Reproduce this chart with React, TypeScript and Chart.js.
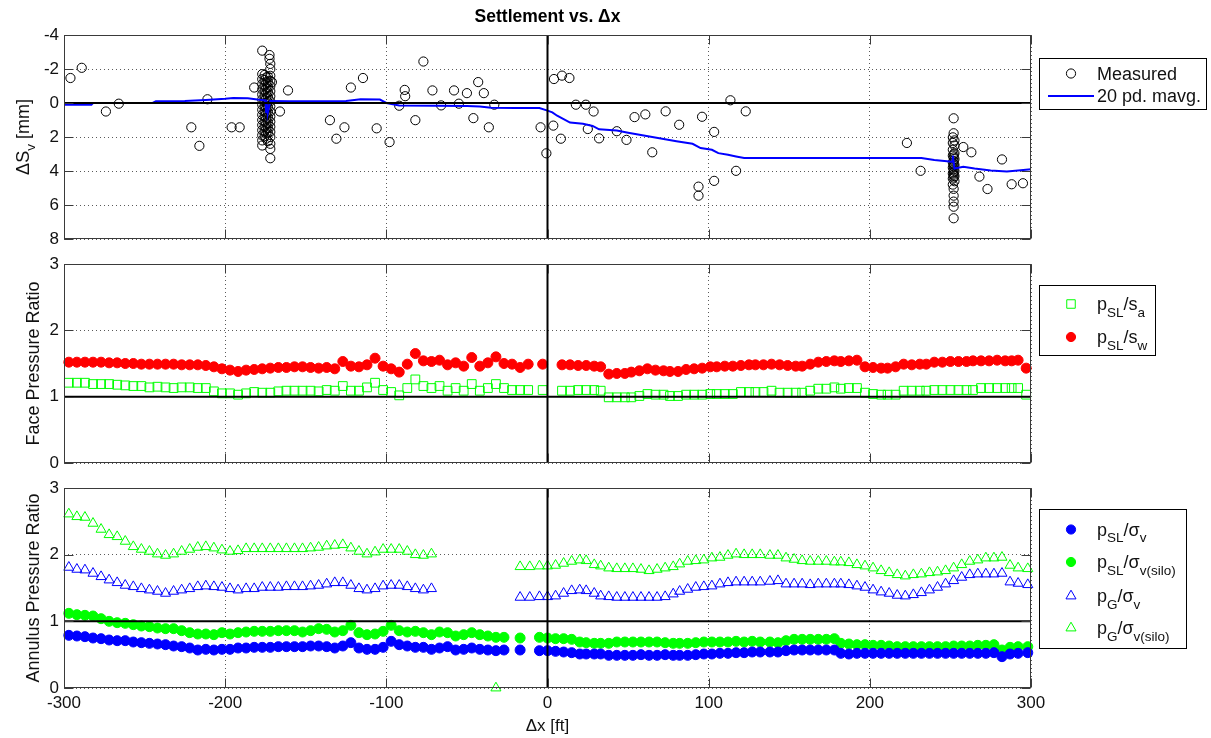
import React, { useEffect, useRef } from 'react';
import { Chart, registerables } from 'chart.js';

Chart.register(...registerables);

const FONT = '"Liberation Sans", Arial, Helvetica, sans-serif';

// ---------- axes ----------
const X_MIN = -300;
const X_MAX = 300;
const X_STEP = 100;
const SETTLE_MIN = -4;
const SETTLE_MAX = 8;
const SETTLE_STEP = 2;
const RATIO_MIN = 0;
const RATIO_MAX = 3;
const RATIO_STEP = 1;

// ---------- panel 1 : settlement ----------
const MEAS_X = [-296, -289, -274, -266, -221, -216, -211, -196, -191, -182, -166, -161, -135, -131, -126, -122, -114.5, -106, -98, -92, -88.6, -88.3, -82, -77, -71.4, -66, -58, -55, -50, -46, -43, -39.5, -36.4, -33, -4.3, -0.7, 3.6, 4, 8.3, 9, 13.6, 17.6, 23.8, 25, 28.6, 32, 43, 49, 54, 60.7, 65, 73.3, 81.7, 93.7, 93.7, 95.9, 103.4, 103.4, 113.5, 117, 123, 223, 231.5, 258, 263, 268, 273, 282, 288, 295];
const MEAS_Y = [-1.47, -2.07, 0.5, 0.04, 1.43, 2.52, -0.22, 1.43, 1.43, -0.91, 0.5, -0.74, 1.01, 2.1, 1.43, -0.91, -1.47, 1.49, 2.3, 0.16, -0.77, -0.4, 1.01, -2.44, -0.74, 0.14, -0.74, 0.04, -0.58, 0.89, -1.23, -0.58, 1.43, 0.1, 1.43, 2.96, 1.33, -1.41, 2.1, -1.61, -1.47, 0.1, 0.1, 1.53, 0.5, 2.08, 1.66, 2.17, 0.83, 0.67, 2.9, 0.49, 1.28, 4.92, 5.45, 0.81, 1.7, 4.58, -0.16, 3.99, 0.49, 2.35, 3.99, 2.59, 2.9, 4.33, 5.06, 3.32, 4.78, 4.72];

const CLUSTER_A_X = [-177, -172.5, -172.5, -172, -172, -177, -172, -177, -172, -177, -172, -177, -172, -177, -172, -177, -172, -177, -172, -177, -172, -177, -172, -177, -172, -177, -172, -177, -172, -177, -172, -177, -172, -177, -172, -172, -171,
  -174.5, -174.5, -174.5, -174.5, -174.5, -174.5, -174.5, -174.5, -174.5, -174.5, -174.5, -174.5, -174.5,
  -175.5, -175.5, -175.5, -175.5, -175.5, -175.5, -175.5, -175.5, -175.5, -175.5, -175.5, -175.5, -175.5,
  -173.5, -173.5, -173.5, -173.5, -173.5, -173.5, -173.5, -173.5, -173.5, -173.5, -173.5, -173.5, -173.5];
const CLUSTER_A_Y = [-3.08, -2.82, -2.6, -2.3, -2.0, -1.7, -1.6, -1.4, -1.3, -1.1, -1.0, -0.8, -0.7, -0.5, -0.4, -0.2, -0.1, 0.1, 0.2, 0.4, 0.5, 0.7, 0.8, 1.0, 1.1, 1.3, 1.4, 1.6, 1.7, 1.9, 2.0, 2.2, 2.4, 2.5, 2.7, 3.25, -1.23,
  -1.5, -1.2, -0.9, -0.6, -0.3, 0.0, 0.3, 0.6, 0.9, 1.2, 1.5, 1.8, 2.1,
  -1.65, -1.35, -1.05, -0.75, -0.45, -0.15, 0.15, 0.45, 0.75, 1.05, 1.35, 1.65, 1.95,
  -1.55, -1.25, -0.95, -0.65, -0.35, -0.05, 0.25, 0.55, 0.85, 1.15, 1.45, 1.75, 2.25];

const CLUSTER_B_X = [252, 252, 251.5, 252.5, 251.5, 252.5, 251.5, 252.5, 251.5, 252.5, 251.5, 252.5, 251.5, 252.5, 251.5, 252.5, 251.5, 252.5, 251.5, 252, 252, 252, 252, 252,
  252, 252, 252, 252, 252, 252, 252, 252, 252];
const CLUSTER_B_Y = [0.9, 1.78, 2.02, 2.2, 2.35, 2.5, 2.75, 2.95, 3.1, 3.3, 3.5, 3.65, 3.8, 4.0, 4.15, 4.3, 4.45, 4.6, 4.8, 5.05, 5.45, 5.8, 6.1, 6.78,
  3.02, 3.2, 3.4, 3.58, 3.72, 3.9, 4.08, 4.22, 4.38];

const MAVG_X = [-300, -283, -282, -245, -243, -225, -212, -200, -195, -186, -180, -175, -174.5, -174, -173.5, -172, -160, -140, -125, -116, -104, -100, -92, -70, -50, -42, -35, -20, -5, 0, 3, 6, 10, 14, 22, 28, 32, 43, 50, 65, 80, 90, 95, 102, 106, 112, 117, 122, 232, 240, 251, 251.5, 252.5, 258, 265, 275, 285, 292, 300];
const MAVG_Y = [0.1, 0.1, 0.0, 0.0, -0.1, -0.12, -0.18, -0.25, -0.3, -0.28, -0.2, -0.15, 0.6, 0.2, 0.55, -0.12, -0.1, -0.1, -0.12, -0.22, -0.2, 0.0, 0.14, 0.16, 0.18, 0.2, 0.28, 0.3, 0.3, 0.45, 0.55, 0.75, 0.95, 1.15, 1.22, 1.35, 1.55, 1.62, 1.75, 2.0, 2.25, 2.4, 2.65, 2.75, 2.95, 3.05, 3.15, 3.24, 3.24, 3.35, 3.45, 3.1, 3.85, 3.75, 3.85, 3.97, 4.03, 3.97, 3.9];

// ---------- panel 2 : face pressure ratio ----------
const FACE_X = [
  -297, -292, -287, -282, -277, -272, -267, -262, -257, -252, -247, -242, -237, -232, -227, -222, -217, -212, -207, -202,
  -197, -192, -187, -182, -177, -172, -167, -162, -157, -152, -147, -142, -137, -132, -127, -122, -117, -112, -107, -102,
  -97, -92, -87, -82, -77, -72, -67, -62, -57, -52, -47, -42, -37, -32, -27, -22, -17, -12,
  -3, 9, 14, 19, 24, 29,
  33, 38, 43, 48, 52, 57, 62, 67, 72, 76, 81, 86, 91, 96, 101, 105, 110, 115, 120, 125,
  129, 134, 139, 144, 149, 154, 158, 163, 168, 173, 178, 182, 187, 192, 197, 202, 207, 211, 216, 221,
  226, 231, 235, 240, 245, 250, 255, 260, 264, 269, 274, 279, 284, 288, 292, 297];
const FACE_SW = [
  1.52, 1.52, 1.52, 1.52, 1.52, 1.51, 1.51, 1.50, 1.50, 1.49, 1.49, 1.49, 1.49, 1.49, 1.48, 1.48, 1.48, 1.47, 1.45, 1.42,
  1.40, 1.38, 1.40, 1.41, 1.42, 1.43, 1.44, 1.44, 1.45, 1.45, 1.44, 1.43, 1.44, 1.42, 1.53, 1.46, 1.45, 1.48, 1.58, 1.46,
  1.42, 1.37, 1.49, 1.65, 1.54, 1.53, 1.55, 1.48, 1.51, 1.46, 1.59, 1.46, 1.51, 1.60, 1.50, 1.49, 1.44, 1.49,
  1.49, 1.48, 1.48, 1.47, 1.47, 1.46,
  1.45, 1.34, 1.35, 1.35, 1.37, 1.39, 1.42, 1.40, 1.39, 1.38, 1.38, 1.41, 1.42, 1.43, 1.45, 1.45, 1.46, 1.46, 1.47, 1.48,
  1.48, 1.48, 1.49, 1.48, 1.47, 1.46, 1.46, 1.49, 1.52, 1.53, 1.54, 1.53, 1.54, 1.55, 1.45, 1.44, 1.43, 1.43, 1.45, 1.49,
  1.48, 1.49, 1.49, 1.52, 1.52, 1.53, 1.53, 1.53, 1.54, 1.54, 1.54, 1.55, 1.54, 1.54, 1.55, 1.43];
const FACE_SA = [
  1.21, 1.21, 1.21, 1.19, 1.19, 1.19, 1.18, 1.17, 1.16, 1.16, 1.14, 1.15, 1.14, 1.13, 1.14, 1.14, 1.13, 1.13, 1.08, 1.05,
  1.05, 1.03, 1.05, 1.07, 1.06, 1.06, 1.08, 1.09, 1.09, 1.09, 1.09, 1.08, 1.10, 1.09, 1.16, 1.09, 1.09, 1.14, 1.21, 1.10,
  1.07, 1.02, 1.13, 1.26, 1.16, 1.13, 1.16, 1.09, 1.13, 1.09, 1.19, 1.09, 1.13, 1.19, 1.13, 1.10, 1.10, 1.10,
  1.10, 1.09, 1.09, 1.10, 1.10, 1.10,
  1.09, 0.99, 0.99, 0.99, 0.99, 1.01, 1.04, 1.03, 1.03, 1.01, 1.01, 1.03, 1.03, 1.03, 1.04, 1.04, 1.04, 1.04, 1.07, 1.07,
  1.07, 1.07, 1.09, 1.06, 1.06, 1.06, 1.06, 1.09, 1.12, 1.12, 1.14, 1.12, 1.13, 1.13, 1.06, 1.04, 1.03, 1.03, 1.03, 1.09,
  1.09, 1.09, 1.09, 1.10, 1.10, 1.10, 1.10, 1.10, 1.10, 1.13, 1.13, 1.13, 1.13, 1.13, 1.13, 1.03];

// ---------- panel 3 : annulus pressure ratio ----------
const ANN_X = [
  -297, -292, -287, -282, -277, -272, -267, -262, -257, -252, -247, -242, -237, -232, -227, -222, -217, -212, -207, -202,
  -197, -192, -187, -182, -177, -172, -167, -162, -157, -152, -147, -142, -137, -132, -127, -122, -117, -112, -107, -102,
  -97, -92, -87, -82, -77, -72, -67, -62, -57, -52, -47, -42, -37, -32, -27,
  -17, -11, -5,
  0, 5, 10, 15, 20, 24, 29,
  33, 38, 43, 48, 53, 58, 63, 68, 73, 78, 82, 87, 92, 97, 102, 107, 112, 117, 122, 127,
  132, 138, 143, 148, 153, 158, 163, 168, 173, 178, 182, 187, 192, 197, 202, 207, 212, 217, 222, 227,
  232, 237, 242, 247, 252, 257, 262, 267, 272, 277, 282, 287, 292, 298];
const ANN_SL_V = [
  0.79, 0.78, 0.77, 0.75, 0.74, 0.72, 0.71, 0.71, 0.69, 0.68, 0.67, 0.66, 0.65, 0.63, 0.62, 0.60, 0.57, 0.58, 0.57, 0.58,
  0.58, 0.60, 0.60, 0.61, 0.61, 0.61, 0.62, 0.62, 0.62, 0.62, 0.63, 0.63, 0.62, 0.60, 0.63, 0.68, 0.60, 0.58, 0.58, 0.61,
  0.70, 0.65, 0.63, 0.61, 0.61, 0.58, 0.60, 0.62, 0.57, 0.58, 0.60, 0.58, 0.57, 0.56, 0.57,
  0.57, null, 0.56,
  0.56, 0.55, 0.54, 0.53, 0.51, 0.51, 0.51,
  0.51, 0.49, 0.49, 0.49, 0.49, 0.50, 0.49, 0.49, 0.50, 0.49, 0.49, 0.49, 0.50, 0.51, 0.51, 0.52, 0.52, 0.53, 0.53, 0.54,
  0.54, 0.54, 0.54, 0.56, 0.57, 0.57, 0.57, 0.57, 0.57, 0.57, 0.52, 0.51, 0.52, 0.52, 0.52, 0.52, 0.52, 0.52, 0.52, 0.52,
  0.52, 0.52, 0.52, 0.52, 0.52, 0.52, 0.52, 0.52, 0.52, 0.53, 0.47, 0.51, 0.52, 0.53];
const ANN_SL_VSILO = [
  1.12, 1.10, 1.09, 1.08, 1.04, 1.00, 0.98, 0.97, 0.95, 0.93, 0.92, 0.90, 0.89, 0.89, 0.86, 0.83, 0.81, 0.81, 0.80, 0.83,
  0.81, 0.83, 0.84, 0.85, 0.85, 0.85, 0.86, 0.86, 0.86, 0.84, 0.86, 0.89, 0.88, 0.84, 0.86, 0.94, 0.83, 0.80, 0.81, 0.85,
  0.94, 0.86, 0.84, 0.85, 0.83, 0.80, 0.84, 0.83, 0.78, 0.80, 0.83, 0.80, 0.78, 0.76, 0.76,
  0.75, null, 0.76,
  0.75, 0.74, 0.74, 0.73, 0.69, 0.68, 0.67,
  0.67, 0.67, 0.69, 0.69, 0.69, 0.69, 0.69, 0.69, 0.68, 0.67, 0.67, 0.67, 0.68, 0.69, 0.69, 0.69, 0.69, 0.70, 0.69, 0.70,
  0.69, 0.69, 0.68, 0.71, 0.73, 0.73, 0.73, 0.73, 0.73, 0.74, 0.67, 0.66, 0.65, 0.65, 0.64, 0.64, 0.63, 0.62, 0.62, 0.62,
  0.62, 0.62, 0.62, 0.62, 0.63, 0.63, 0.63, 0.64, 0.64, 0.65, 0.57, 0.61, 0.62, 0.62];
const ANN_G_V = [
  1.81, 1.78, 1.77, 1.72, 1.67, 1.62, 1.58, 1.54, 1.52, 1.49, 1.47, 1.45, 1.42, 1.45, 1.47, 1.49, 1.52, 1.53, 1.52, 1.51,
  1.49, 1.47, 1.49, 1.49, 1.51, 1.51, 1.51, 1.52, 1.52, 1.52, 1.53, 1.54, 1.56, 1.58, 1.58, 1.54, 1.49, 1.47, 1.49, 1.53,
  1.54, 1.54, 1.52, 1.49, 1.47, 1.49, null, null, null, null, null, null, null, null, null,
  1.36, 1.36, 1.37,
  1.37, 1.38, 1.42, 1.46, 1.47, 1.46, 1.42,
  1.38, 1.37, 1.36, 1.36, 1.36, 1.36, 1.36, 1.36, 1.37, 1.41, 1.45, 1.48, 1.51, 1.52, 1.53, 1.56, 1.58, 1.59, 1.59, 1.59,
  1.59, 1.60, 1.61, 1.56, 1.56, 1.56, 1.55, 1.56, 1.56, 1.56, 1.56, 1.55, 1.53, 1.51, 1.47, 1.44, 1.42, 1.39, 1.38, 1.40,
  1.43, 1.47, 1.51, 1.56, 1.61, 1.66, 1.70, 1.71, 1.71, 1.71, 1.72, 1.59, 1.57, 1.55];
const ANN_G_VSILO = [
  2.61, 2.57, 2.56, 2.47, 2.38, 2.30, 2.27, 2.20, 2.12, 2.08, 2.05, 2.01, 1.99, 2.01, 2.05, 2.08, 2.11, 2.12, 2.10, 2.07,
  2.05, 2.06, 2.09, 2.09, 2.09, 2.09, 2.09, 2.09, 2.09, 2.09, 2.10, 2.11, 2.13, 2.14, 2.15, 2.10, 2.05, 2.01, 2.04, 2.08,
  2.08, 2.08, 2.05, 2.00, 1.99, 2.01, null, null, null, null, null, null, null, 0.0, null,
  1.82, 1.82, 1.83,
  1.83, 1.84, 1.87, 1.90, 1.92, 1.91, 1.85,
  1.83, 1.80, 1.79, 1.79, 1.79, 1.78, 1.76, 1.78, 1.80, 1.82, 1.86, 1.90, 1.91, 1.92, 1.95, 1.96, 1.99, 2.01, 2.00, 2.00,
  2.00, 1.99, 1.99, 1.95, 1.93, 1.91, 1.90, 1.90, 1.90, 1.89, 1.89, 1.88, 1.85, 1.83, 1.80, 1.76, 1.73, 1.70, 1.68, 1.70,
  1.71, 1.73, 1.74, 1.76, 1.80, 1.85, 1.90, 1.92, 1.95, 1.95, 1.96, 1.84, 1.80, 1.79];

// ---------- colours ----------
const BLUE = '#0000ff';
const GREEN = '#00ff00';
const RED = '#ff0000';
const BLACK = '#000000';

// ---------- layout (page px) ----------
const FIG_W = 1211;
const FIG_H = 738;
const PLOT_LEFT = 64;
const PLOT_RIGHT = 1031;

type Part = { t: string; sub?: boolean };
type LegendItem = { kind: 'circle' | 'line' | 'rect' | 'triangle'; color: string; fill: boolean; parts: Part[] };
type Panel = { top: number; height: number; areaTop: number; areaBottom: number };

// canvases overlap a little (they are transparent) so Chart.js never has to push the plot area
const P1: Panel = { top: 0, height: 259, areaTop: 35, areaBottom: 239 };
const P2: Panel = { top: 244, height: 239, areaTop: 264, areaBottom: 463 };
const P3: Panel = { top: 468, height: 270, areaTop: 488, areaBottom: 688 };

const TICK_SIZE = 17;
const LEG_SIZE = 18;
const TITLE_SIZE = 18;

function pts(xs: number[], ys: (number | null)[]) {
  const out: { x: number; y: number }[] = [];
  xs.forEach((x, i) => {
    const y = ys[i];
    if (y !== null && y !== undefined) out.push({ x, y });
  });
  return out;
}

function partsWidth(ctx: CanvasRenderingContext2D, parts: Part[], size: number) {
  let w = 0;
  for (const p of parts) {
    const fs = p.sub ? size * 0.75 : size;
    ctx.font = `${fs}px ${FONT}`;
    w += ctx.measureText(p.t).width;
  }
  return w;
}

function drawParts(ctx: CanvasRenderingContext2D, parts: Part[], x: number, y: number, size: number) {
  let cx = x;
  ctx.textAlign = 'left';
  ctx.textBaseline = 'alphabetic';
  for (const p of parts) {
    const fs = p.sub ? size * 0.75 : size;
    ctx.font = `${fs}px ${FONT}`;
    ctx.fillText(p.t, cx, y + (p.sub ? size * 0.36 : 0));
    cx += ctx.measureText(p.t).width;
  }
}

function drawMarker(ctx: CanvasRenderingContext2D, it: LegendItem, x: number, y: number, lineX0: number, lineX1: number) {
  ctx.save();
  ctx.strokeStyle = it.color;
  ctx.fillStyle = it.color;
  ctx.lineWidth = 1;
  ctx.beginPath();
  if (it.kind === 'line') {
    ctx.lineWidth = 2;
    ctx.moveTo(lineX0, y);
    ctx.lineTo(lineX1, y);
    ctx.stroke();
  } else if (it.kind === 'circle') {
    ctx.arc(x, y, 4.6, 0, Math.PI * 2);
    if (it.fill) ctx.fill();
    ctx.stroke();
  } else if (it.kind === 'rect') {
    ctx.rect(x - 4.25, y - 4.25, 8.5, 8.5);
    ctx.stroke();
  } else {
    const r = 5.8;
    ctx.moveTo(x, y - r);
    ctx.lineTo(x + r * 0.866, y + r / 2);
    ctx.lineTo(x - r * 0.866, y + r / 2);
    ctx.closePath();
    ctx.stroke();
  }
  ctx.restore();
}

type Decor = {
  panel: Panel;
  yTitle: Part[];
  yTitleX: number;
  legend: { x: number; y: number; w: number; h: number; markerX: number; textX: number; lineX0: number; lineX1: number; itemY: number[]; items: LegendItem[] };
  title?: string;
};

function makeDecor(cfg: Decor) {
  return {
    id: 'decor',
    afterDraw(chart: any) {
      const ctx: CanvasRenderingContext2D = chart.ctx;
      const { left, right, top, bottom } = chart.chartArea;
      const off = cfg.panel.top;
      ctx.save();
      ctx.setLineDash([]);
      // frame
      ctx.strokeStyle = '#3a3a3a';
      ctx.lineWidth = 1;
      const L = Math.round(left) + 0.5;
      const R = Math.round(right) - 0.5;
      const T = Math.round(top) + 0.5;
      const B = Math.round(bottom) - 0.5;
      ctx.strokeRect(L, T, R - L, B - T);
      // inward ticks
      const tk = 9;
      ctx.beginPath();
      chart.scales.x.ticks.forEach((t: any) => {
        const px = Math.round(chart.scales.x.getPixelForValue(t.value)) + 0.5;
        ctx.moveTo(px, B); ctx.lineTo(px, B - tk);
        ctx.moveTo(px, T); ctx.lineTo(px, T + tk);
      });
      chart.scales.y.ticks.forEach((t: any) => {
        const py = Math.round(chart.scales.y.getPixelForValue(t.value)) + 0.5;
        ctx.moveTo(L, py); ctx.lineTo(L + tk, py);
        ctx.moveTo(R, py); ctx.lineTo(R - tk, py);
      });
      ctx.stroke();

      // y title (rotated)
      ctx.fillStyle = '#111';
      ctx.save();
      ctx.translate(cfg.yTitleX, (top + bottom) / 2);
      ctx.rotate(-Math.PI / 2);
      const w = partsWidth(ctx, cfg.yTitle, TITLE_SIZE);
      drawParts(ctx, cfg.yTitle, -w / 2, 0, TITLE_SIZE);
      ctx.restore();

      // title
      if (cfg.title) {
        ctx.font = `bold 17.5px ${FONT}`;
        ctx.textAlign = 'center';
        ctx.textBaseline = 'alphabetic';
        ctx.fillStyle = '#000';
        ctx.fillText(cfg.title, (left + right) / 2, 22 - off);
      }

      // legend
      const lg = cfg.legend;
      ctx.fillStyle = '#fff';
      ctx.fillRect(lg.x, lg.y - off, lg.w, lg.h);
      ctx.strokeStyle = '#000';
      ctx.lineWidth = 1;
      ctx.strokeRect(lg.x + 0.5, lg.y - off + 0.5, lg.w, lg.h);
      lg.items.forEach((it, i) => {
        const cy = lg.itemY[i] - off;
        drawMarker(ctx, it, lg.markerX, cy, lg.lineX0, lg.lineX1);
        ctx.fillStyle = '#111';
        drawParts(ctx, it.parts, lg.textX, cy + 6.3, LEG_SIZE);
      });
      ctx.restore();
    },
  };
}

function refLine(data: { x: number; y: number }[]) {
  return {
    data,
    showLine: true,
    borderColor: BLACK,
    borderWidth: 2,
    pointRadius: 0,
    fill: false,
  };
}

function buildOptions(p: Panel, yMin: number, yMax: number, yStep: number, reverse: boolean, showX: boolean) {
  const gridCommon = { color: '#5a5a5a', lineWidth: 1, drawTicks: false, borderDash: [1, 3] };
  const xAxisH = FIG_H - p.areaBottom;
  return {
    responsive: false,
    maintainAspectRatio: false,
    animation: false,
    devicePixelRatio: 1,
    events: [],
    layout: {
      padding: {
        left: 0,
        right: FIG_W - PLOT_RIGHT,
        top: p.areaTop - p.top,
        bottom: showX ? 0 : p.top + p.height - p.areaBottom,
      },
    },
    plugins: { legend: { display: false }, tooltip: { enabled: false }, title: { display: false } },
    scales: {
      x: {
        type: 'linear',
        min: X_MIN,
        max: X_MAX,
        ticks: {
          stepSize: X_STEP,
          display: showX,
          padding: 5,
          color: '#111',
          font: { family: FONT, size: TICK_SIZE },
        },
        grid: gridCommon,
        border: { display: false, dash: [1, 3] },
        title: showX
          ? { display: true, text: 'Δx [ft]', color: '#111', font: { family: FONT, size: 17 }, padding: { top: 2, bottom: 1 } }
          : { display: false },
        afterFit: (s: any) => {
          s.height = showX ? xAxisH : 0;
        },
      },
      y: {
        type: 'linear',
        min: yMin,
        max: yMax,
        reverse,
        ticks: {
          stepSize: yStep,
          padding: 5,
          color: '#111',
          font: { family: FONT, size: TICK_SIZE },
        },
        grid: gridCommon,
        border: { display: false, dash: [1, 3] },
        title: { display: false },
        afterFit: (s: any) => {
          s.width = PLOT_LEFT;
        },
      },
    },
  };
}

const LEG_MARKER_X = 1071;
const LEG_TEXT_X = 1097;

export default function App() {
  const c1 = useRef<HTMLCanvasElement>(null);
  const c2 = useRef<HTMLCanvasElement>(null);
  const c3 = useRef<HTMLCanvasElement>(null);

  useEffect(() => {
    const charts: Chart[] = [];

    // ---- panel 1
    const measured = [...pts(MEAS_X, MEAS_Y), ...pts(CLUSTER_A_X, CLUSTER_A_Y), ...pts(CLUSTER_B_X, CLUSTER_B_Y)];
    charts.push(
      new Chart(c1.current as HTMLCanvasElement, {
        type: 'scatter',
        data: {
          datasets: [
            refLine([{ x: X_MIN, y: 0 }, { x: X_MAX, y: 0 }]),
            refLine([{ x: 0, y: SETTLE_MIN }, { x: 0, y: SETTLE_MAX }]),
            {
              label: '20 pd. mavg.',
              data: pts(MAVG_X, MAVG_Y),
              showLine: true,
              borderColor: BLUE,
              borderWidth: 2,
              pointRadius: 0,
              fill: false,
            },
            {
              label: 'Measured',
              data: measured,
              pointStyle: 'circle',
              pointRadius: 4.6,
              borderColor: BLACK,
              borderWidth: 1,
              backgroundColor: 'rgba(0,0,0,0)',
              clip: false,
            },
          ] as any,
        },
        options: buildOptions(P1, SETTLE_MIN, SETTLE_MAX, SETTLE_STEP, true, false) as any,
        plugins: [
          makeDecor({
            panel: P1,
            yTitle: [{ t: 'ΔS' }, { t: 'v', sub: true }, { t: ' [mm]' }],
            yTitleX: 29,
            title: 'Settlement vs. Δx',
            legend: {
              x: 1039, y: 58, w: 167, h: 51,
              markerX: LEG_MARKER_X, textX: LEG_TEXT_X, lineX0: 1048, lineX1: 1094,
              itemY: [73.5, 96],
              items: [
                { kind: 'circle', color: BLACK, fill: false, parts: [{ t: 'Measured' }] },
                { kind: 'line', color: BLUE, fill: false, parts: [{ t: '20 pd. mavg.' }] },
              ],
            },
          }),
        ],
      })
    );

    // ---- panel 2
    charts.push(
      new Chart(c2.current as HTMLCanvasElement, {
        type: 'scatter',
        data: {
          datasets: [
            refLine([{ x: X_MIN, y: 1 }, { x: X_MAX, y: 1 }]),
            refLine([{ x: 0, y: RATIO_MIN }, { x: 0, y: RATIO_MAX }]),
            {
              label: 'pSL/sw',
              data: pts(FACE_X, FACE_SW),
              pointStyle: 'circle',
              pointRadius: 5,
              borderColor: RED,
              backgroundColor: RED,
              borderWidth: 1,
              clip: false,
            },
            {
              label: 'pSL/sa',
              data: pts(FACE_X, FACE_SA),
              pointStyle: 'rect',
              pointRadius: 6.2,
              borderColor: GREEN,
              backgroundColor: 'rgba(0,0,0,0)',
              borderWidth: 1,
              clip: false,
            },
          ] as any,
        },
        options: buildOptions(P2, RATIO_MIN, RATIO_MAX, RATIO_STEP, false, false) as any,
        plugins: [
          makeDecor({
            panel: P2,
            yTitle: [{ t: 'Face Pressure Ratio' }],
            yTitleX: 39,
            legend: {
              x: 1039, y: 285, w: 116, h: 70,
              markerX: LEG_MARKER_X, textX: LEG_TEXT_X, lineX0: 1048, lineX1: 1094,
              itemY: [304, 337],
              items: [
                { kind: 'rect', color: GREEN, fill: false, parts: [{ t: 'p' }, { t: 'SL', sub: true }, { t: '/s' }, { t: 'a', sub: true }] },
                { kind: 'circle', color: RED, fill: true, parts: [{ t: 'p' }, { t: 'SL', sub: true }, { t: '/s' }, { t: 'w', sub: true }] },
              ],
            },
          }),
        ],
      })
    );

    // ---- panel 3
    charts.push(
      new Chart(c3.current as HTMLCanvasElement, {
        type: 'scatter',
        data: {
          datasets: [
            refLine([{ x: X_MIN, y: 1 }, { x: X_MAX, y: 1 }]),
            refLine([{ x: 0, y: RATIO_MIN }, { x: 0, y: RATIO_MAX }]),
            {
              label: 'pSL/σv',
              data: pts(ANN_X, ANN_SL_V),
              pointStyle: 'circle',
              pointRadius: 5,
              borderColor: BLUE,
              backgroundColor: BLUE,
              borderWidth: 1,
              clip: false,
            },
            {
              label: 'pSL/σv(silo)',
              data: pts(ANN_X, ANN_SL_VSILO),
              pointStyle: 'circle',
              pointRadius: 5,
              borderColor: GREEN,
              backgroundColor: GREEN,
              borderWidth: 1,
              clip: false,
            },
            {
              label: 'pG/σv',
              data: pts(ANN_X, ANN_G_V),
              pointStyle: 'triangle',
              pointRadius: 5.8,
              borderColor: BLUE,
              backgroundColor: 'rgba(0,0,0,0)',
              borderWidth: 1,
              clip: false,
            },
            {
              label: 'pG/σv(silo)',
              data: pts(ANN_X, ANN_G_VSILO),
              pointStyle: 'triangle',
              pointRadius: 5.8,
              borderColor: GREEN,
              backgroundColor: 'rgba(0,0,0,0)',
              borderWidth: 1,
              clip: false,
            },
          ] as any,
        },
        options: buildOptions(P3, RATIO_MIN, RATIO_MAX, RATIO_STEP, false, true) as any,
        plugins: [
          makeDecor({
            panel: P3,
            yTitle: [{ t: 'Annulus Pressure Ratio' }],
            yTitleX: 39,
            legend: {
              x: 1039, y: 509, w: 147, h: 139,
              markerX: LEG_MARKER_X, textX: LEG_TEXT_X, lineX0: 1048, lineX1: 1094,
              itemY: [529.5, 562, 596, 628],
              items: [
                { kind: 'circle', color: BLUE, fill: true, parts: [{ t: 'p' }, { t: 'SL', sub: true }, { t: '/σ' }, { t: 'v', sub: true }] },
                { kind: 'circle', color: GREEN, fill: true, parts: [{ t: 'p' }, { t: 'SL', sub: true }, { t: '/σ' }, { t: 'v(silo)', sub: true }] },
                { kind: 'triangle', color: BLUE, fill: false, parts: [{ t: 'p' }, { t: 'G', sub: true }, { t: '/σ' }, { t: 'v', sub: true }] },
                { kind: 'triangle', color: GREEN, fill: false, parts: [{ t: 'p' }, { t: 'G', sub: true }, { t: '/σ' }, { t: 'v(silo)', sub: true }] },
              ],
            },
          }),
        ],
      })
    );

    return () => {
      charts.forEach((c) => c.destroy());
    };
  }, []);

  const cs = (p: Panel): React.CSSProperties => ({ position: 'absolute', left: 0, top: p.top, width: FIG_W, height: p.height });

  return (
    <div style={{ position: 'absolute', left: 0, top: 0, width: FIG_W, height: FIG_H, background: '#fff', overflow: 'hidden' }}>
      <canvas ref={c1} width={FIG_W} height={P1.height} style={cs(P1)} />
      <canvas ref={c2} width={FIG_W} height={P2.height} style={cs(P2)} />
      <canvas ref={c3} width={FIG_W} height={P3.height} style={cs(P3)} />
    </div>
  );
}
